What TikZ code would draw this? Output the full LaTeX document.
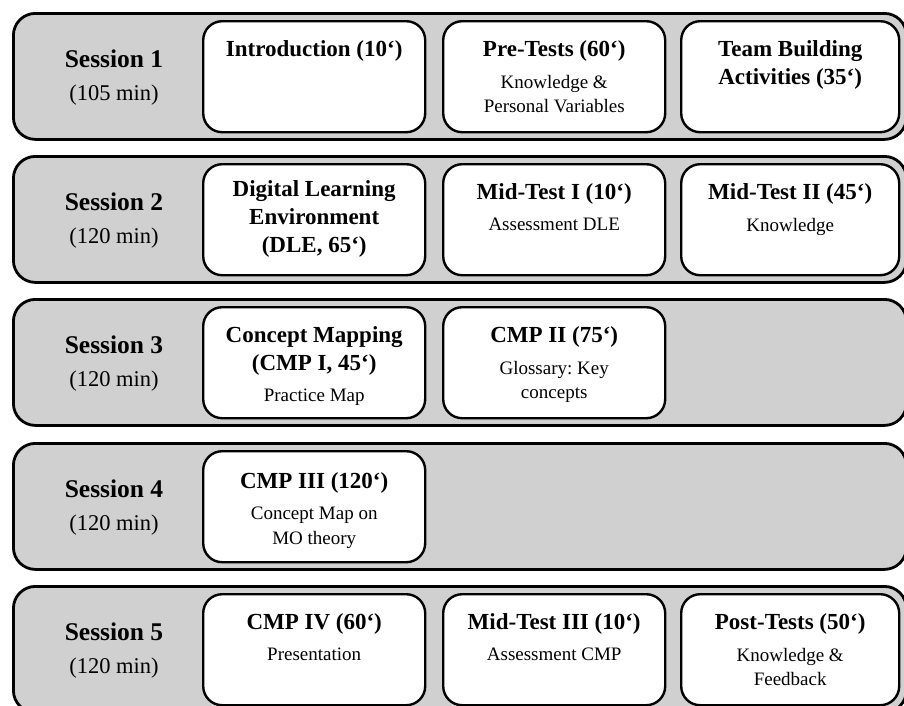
\documentclass[tikz,border=0pt]{standalone}
\usepackage{fontspec}
\setmainfont{Liberation Serif}
\usetikzlibrary{positioning}

\definecolor{panelgray}{RGB}{208,208,208}
\frenchspacing

\begin{document}
\begin{tikzpicture}[x=1pt,y=-1pt,
  panel/.style = {draw=black,line width=2.8pt,fill=panelgray,rounded corners=22pt,
                  minimum width=893pt,minimum height=126pt,anchor=north west,inner sep=0pt},
  act/.style   = {draw=black,line width=2.4pt,fill=white,rounded corners=19pt,
                  minimum height=111pt,anchor=north west,inner sep=0pt},
  title/.style = {font=\fontsize{23}{28}\selectfont\bfseries,align=center,inner sep=0pt},
  detail/.style= {font=\fontsize{19}{24.5}\selectfont,align=center,inner sep=0pt},
  sess/.style  = {font=\fontsize{25.5}{30}\selectfont\bfseries,anchor=base},
  dur/.style   = {font=\fontsize{22.5}{27}\selectfont,anchor=base}]
\clip (0,0) rectangle (904,705);
\foreach \s/\py/\m in {1/12/105, 2/155/120, 3/298/120, 4/442/120, 5/585/120} {
    \node[panel] (p\s) at (12,\py) {};
    \node[sess] (s\s) at (114,\py+55) {Session \s};
    \node[dur] (d\s) at (114,\py+88) {(\m\ min)};
}
% session 1
\node[act,minimum width=222pt] (b11) at (202,20) {};
\node[title,below=20pt of b11.north] (t11) {Introduction (10‘)};
\node[act,minimum width=222pt] (b12) at (442,20) {};
\node[title,below=20pt of b12.north] (t12) {Pre-Tests (60‘)};
\node[detail,below=13.5pt of t12] (x12) {Knowledge \&\\Personal Variables};
\node[act,minimum width=218pt] (b13) at (680,20) {};
\node[title,below=20pt of b13.north] (t13) {Team Building\\Activities (35‘)};
% session 2
\node[act,minimum width=222pt] (b21) at (202,163) {};
\node[title,below=17pt of b21.north] (t21) {Digital Learning\\Environment\\(DLE, 65‘)};
\node[act,minimum width=222pt] (b22) at (442,163) {};
\node[title,below=20pt of b22.north] (t22) {Mid-Test I (10‘)};
\node[detail,below=13.5pt of t22] (x22) {Assessment DLE};
\node[act,minimum width=218pt] (b23) at (680,163) {};
\node[title,below=20pt of b23.north] (t23) {Mid-Test II (45‘)};
\node[detail,below=13.5pt of t23] (x23) {Knowledge};
% session 3
\node[act,minimum width=222pt] (b31) at (202,306) {};
\node[title,below=20pt of b31.north] (t31) {Concept Mapping\\(CMP I, 45‘)};
\node[detail,below=13.5pt of t31] (x31) {Practice Map};
\node[act,minimum width=222pt] (b32) at (442,306) {};
\node[title,below=20pt of b32.north] (t32) {CMP II (75‘)};
\node[detail,below=13.5pt of t32] (x32) {Glossary: Key\\concepts};
% session 4
\node[act,minimum width=222pt] (b41) at (202,450) {};
\node[title,below=22pt of b41.north] (t41) {CMP III (120‘)};
\node[detail,below=13.5pt of t41] (x41) {Concept Map on\\MO theory};
% session 5
\node[act,minimum width=222pt] (b51) at (202,593) {};
\node[title,below=20pt of b51.north] (t51) {CMP IV (60‘)};
\node[detail,below=13.5pt of t51] (x51) {Presentation};
\node[act,minimum width=222pt] (b52) at (442,593) {};
\node[title,below=20pt of b52.north] (t52) {Mid-Test III (10‘)};
\node[detail,below=13.5pt of t52] (x52) {Assessment CMP};
\node[act,minimum width=218pt] (b53) at (680,593) {};
\node[title,below=20pt of b53.north] (t53) {Post-Tests (50‘)};
\node[detail,below=13.5pt of t53] (x53) {Knowledge \&\\Feedback};
\end{tikzpicture}
\end{document}
